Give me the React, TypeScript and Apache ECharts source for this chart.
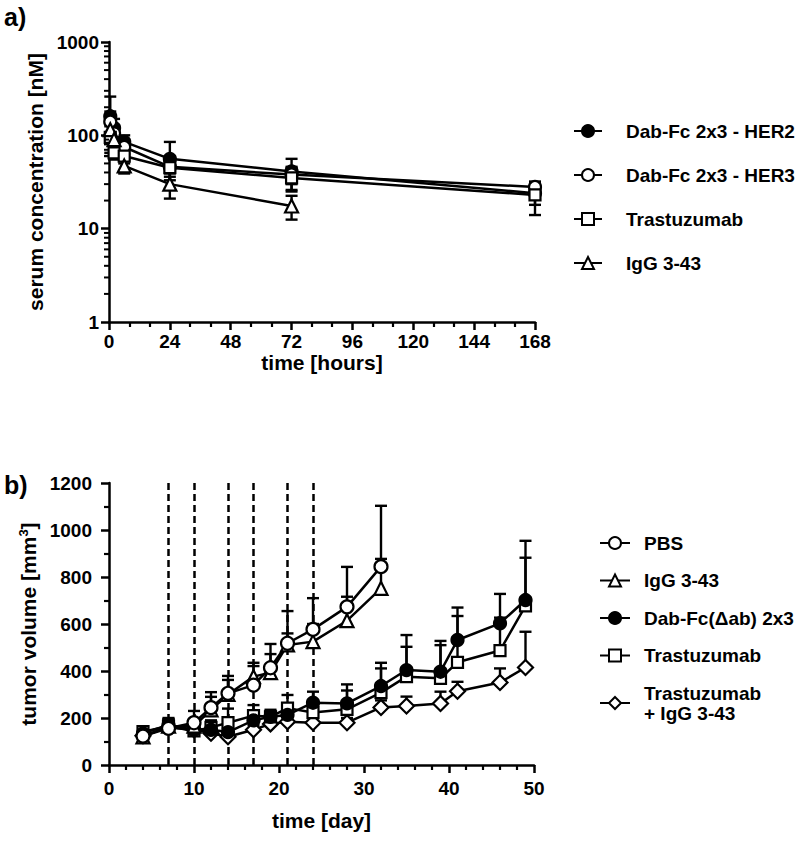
import React, { useEffect, useRef } from 'react';
import * as echarts from 'echarts';

const FONT = '"Liberation Sans", Arial, Helvetica, sans-serif';

// ---------- Panel a: serum concentration (nM) vs time (hours) ----------
const pkTimes = [0.5, 2, 6, 24, 72, 168];
const pkHer2 = [160, 120, 85, 56, 41, 24];
const pkHer2Sd = [100, 30, 15, 29, 15, 6];
const pkHer3 = [140, 105, 75, 46, 38, 28];
const pkHer3Sd = [40, 20, 12, 10, 8, 3];
const pkTras = [95, 65, 60, 45, 35, 23];
const pkTrasSd = [30, 10, 10, 12, 10, 9];
const pkIggTimes = [0.5, 2, 6, 24, 72];
const pkIgg = [115, 90, 47, 30, 17.5];
const pkIggSd = [30, 20, 8, 9, 5];
const logDecades = [1, 10, 100];
const logMinorMultipliers = [2, 3, 4, 5, 6, 7, 8, 9];

// ---------- Panel b: tumor volume (mm3) vs time (day) ----------
const days = [4, 7, 10, 12, 14, 17, 19, 21, 24, 28, 32, 35, 39, 41, 46, 49];
const daysShort = [4, 7, 10, 12, 14, 17, 19, 21, 24, 28, 32];
const pbs = [123, 156, 180, 244, 305, 340, 414, 518, 577, 673, 844];
const pbsErr = [20, 40, 50, 66, 74, 95, 101, 137, 133, 170, 259];
const igg = [120, 165, 165, 235, 300, 376, 393, 511, 525, 614, 752];
const iggErr = [15, 30, 30, 55, 62, 45, 79, 49, 75, 102, 125];
const dabFc = [135, 170, 150, 150, 140, 190, 205, 213, 265, 262, 336, 404, 397, 532, 603, 702];
const dabFcErr = [15, 30, 30, 30, 40, 40, 30, 40, 47, 81, 99, 149, 131, 138, 125, 252];
const tras = [142, 165, 145, 160, 180, 210, 205, 242, 223, 237, 308, 376, 369, 437, 487, 677];
const trasErr = [15, 25, 30, 30, 60, 45, 25, 56, 40, 80, 103, 127, 141, 197, 140, 205];
const trasIgg = [125, 160, 150, 135, 120, 150, 175, 184, 180, 180, 245, 251, 262, 314, 351, 415];
const trasIggErr = [10, 15, 15, 15, 15, 20, 15, 20, 20, 20, 30, 40, 50, 40, 60, 152];
const dosingDays = [7, 10, 14, 17, 21, 24];

const pkLegend = ['Dab-Fc 2x3 - HER2', 'Dab-Fc 2x3 - HER3', 'Trastuzumab', 'IgG 3-43'];
const tumorLegend = ['PBS', 'IgG 3-43', 'Dab-Fc(Δab) 2x3', 'Trastuzumab', 'Trastuzumab\n+ IgG 3-43'];

const pairs = (xs: number[], ys: number[]) => xs.map((x, i) => [x, ys[i]]);

function lineSeries(name: string, grid: number, xs: number[], ys: number[], symbol: string, size: number, filled: boolean) {
  return {
    type: 'line',
    name,
    xAxisIndex: grid,
    yAxisIndex: grid,
    data: pairs(xs, ys),
    symbol,
    symbolSize: size,
    showSymbol: true,
    z: 5,
    lineStyle: { color: '#000', width: 2.5 },
    itemStyle: { color: filled ? '#000' : '#fff', borderColor: '#000', borderWidth: 2.2 },
    emphasis: { disabled: true },
    silent: true,
  };
}

function errorSeries(grid: number, xs: number[], ys: number[], errs: number[], both: boolean) {
  return {
    type: 'custom',
    xAxisIndex: grid,
    yAxisIndex: grid,
    z: 2,
    silent: true,
    data: xs.map((x, i) => [x, both ? ys[i] - errs[i] : ys[i], ys[i] + errs[i]]),
    encode: { x: 0, y: [1, 2] },
    renderItem: (_params: any, api: any) => {
      const x = api.value(0);
      const hi = api.coord([x, api.value(2)]);
      const lo = api.coord([x, api.value(1)]);
      const w = 6;
      const st = { stroke: '#000', lineWidth: 2.4 };
      const children: any[] = [
        { type: 'line', shape: { x1: hi[0], y1: hi[1], x2: lo[0], y2: lo[1] }, style: st },
        { type: 'line', shape: { x1: hi[0] - w, y1: hi[1], x2: hi[0] + w, y2: hi[1] }, style: st },
      ];
      if (both) children.push({ type: 'line', shape: { x1: lo[0] - w, y1: lo[1], x2: lo[0] + w, y2: lo[1] }, style: st });
      return { type: 'group', children };
    },
  };
}

const axisLineStyle = { lineStyle: { color: '#000', width: 2.5 } };
const tickStyle = { show: true, inside: false, length: 8, lineStyle: { color: '#000', width: 2.5 } };
const minorTickStyle = (n: number) => ({ show: true, splitNumber: n, length: 5, lineStyle: { color: '#000', width: 2.2 } });
const labelStyle = (margin: number) => ({
  color: '#000', fontFamily: FONT, fontWeight: 'bold', fontSize: 19, margin,
  formatter: (v: number) => String(Math.round(v)),
});
const nameStyle = { color: '#000', fontFamily: FONT, fontWeight: 'bold', fontSize: 21 };
const legendText = (pad: number) => ({
  color: '#000', fontFamily: FONT, fontWeight: 'bold', fontSize: 19, lineHeight: 20, padding: [0, 0, 0, pad],
});

export default function App() {
  const ref = useRef<HTMLDivElement>(null);
  useEffect(() => {
    document.body.style.margin = '0';
    if (!ref.current) return;
    const chart = echarts.init(ref.current, undefined, { renderer: 'svg' });
    const logMinor: number[][] = [];
    logDecades.forEach((d) => logMinorMultipliers.forEach((m) => logMinor.push([0, d * m])));

    const option: any = {
      animation: false,
      backgroundColor: '#fff',
      textStyle: { fontFamily: FONT },
      grid: [
        { left: 109, top: 42, width: 426, height: 280, containLabel: false, outerBoundsMode: 'none' },
        { left: 109, top: 483, width: 425, height: 282, containLabel: false, outerBoundsMode: 'none' },
      ],
      xAxis: [
        {
          gridIndex: 0, type: 'value', min: 0, max: 168, interval: 24,
          axisLine: axisLineStyle, axisTick: tickStyle, minorTick: minorTickStyle(3),
          splitLine: { show: false }, axisLabel: labelStyle(10),
          name: 'time [hours]', nameLocation: 'middle', nameGap: 30, nameTextStyle: nameStyle,
        },
        {
          gridIndex: 1, type: 'value', min: 0, max: 50, interval: 10,
          axisLine: axisLineStyle, axisTick: tickStyle, minorTick: minorTickStyle(5),
          splitLine: { show: false }, axisLabel: labelStyle(14),
          name: 'time [day]', nameLocation: 'middle', nameGap: 45, nameTextStyle: nameStyle,
        },
      ],
      yAxis: [
        {
          gridIndex: 0, type: 'log', logBase: 10, min: 1, max: 1000, splitNumber: 3,
          axisLine: axisLineStyle, axisTick: tickStyle, splitLine: { show: false },
          axisLabel: labelStyle(10),
          name: 'serum concentration [nM]', nameLocation: 'middle', nameGap: 58, nameTextStyle: nameStyle,
        },
        {
          gridIndex: 1, type: 'value', min: 0, max: 1200, interval: 200,
          axisLine: axisLineStyle, axisTick: tickStyle, minorTick: minorTickStyle(2),
          splitLine: { show: false }, axisLabel: labelStyle(17),
          name: 'tumor volume [mm{sup|3}]', nameLocation: 'middle', nameGap: 52,
          nameTextStyle: { ...nameStyle, rich: { sup: { fontFamily: FONT, fontWeight: 'bold', fontSize: 13, color: '#000', padding: [0, 0, 10, 0] } } },
        },
      ],
      legend: [
        {
          orient: 'vertical', left: 573, top: 121, padding: 0, itemWidth: 28, itemHeight: 15, itemGap: 24,
          selectedMode: false, data: pkLegend, textStyle: legendText(19),
        },
        {
          orient: 'vertical', left: 599, top: 533, padding: 0, itemWidth: 30, itemHeight: 15, itemGap: 17.5,
          selectedMode: false, data: tumorLegend, textStyle: legendText(9),
        },
      ],
      graphic: [
        { type: 'text', left: 4, top: 4, style: { text: 'a)', fontFamily: FONT, fontWeight: 'bold', fontSize: 25, fill: '#000' } },
        { type: 'text', left: 4, top: 472, style: { text: 'b)', fontFamily: FONT, fontWeight: 'bold', fontSize: 25, fill: '#000' } },
      ],
      series: [
        // panel a
        errorSeries(0, pkTimes, pkHer2, pkHer2Sd, true),
        errorSeries(0, pkTimes, pkHer3, pkHer3Sd, true),
        errorSeries(0, pkTimes, pkTras, pkTrasSd, true),
        errorSeries(0, pkIggTimes, pkIgg, pkIggSd, true),
        lineSeries('Dab-Fc 2x3 - HER2', 0, pkTimes, pkHer2, 'circle', 12, true),
        lineSeries('Dab-Fc 2x3 - HER3', 0, pkTimes, pkHer3, 'circle', 12, false),
        lineSeries('Trastuzumab', 0, pkTimes, pkTras, 'rect', 11, false),
        lineSeries('IgG 3-43', 0, pkIggTimes, pkIgg, 'triangle', 13, false),
        {
          type: 'custom', xAxisIndex: 0, yAxisIndex: 0, silent: true, z: 6,
          data: logMinor, encode: { x: 0, y: 1 },
          renderItem: (_p: any, api: any) => {
            const p = api.coord([api.value(0), api.value(1)]);
            return { type: 'line', shape: { x1: p[0] - 5, y1: p[1], x2: p[0], y2: p[1] }, style: { stroke: '#000', lineWidth: 2 } };
          },
        },
        // panel b
        {
          type: 'line', xAxisIndex: 1, yAxisIndex: 1, data: [], silent: true, z: 1,
          markLine: {
            silent: true, symbol: 'none', label: { show: false },
            lineStyle: { color: '#000', width: 2.5, type: [7, 4] },
            data: dosingDays.map((d) => ({ xAxis: d })),
          },
        },
        errorSeries(1, daysShort, pbs, pbsErr, false),
        errorSeries(1, daysShort, igg, iggErr, false),
        errorSeries(1, days, dabFc, dabFcErr, false),
        errorSeries(1, days, tras, trasErr, false),
        errorSeries(1, days, trasIgg, trasIggErr, false),
        lineSeries('Trastuzumab\n+ IgG 3-43', 1, days, trasIgg, 'diamond', 15, false),
        lineSeries('Trastuzumab', 1, days, tras, 'rect', 11, false),
        lineSeries('Dab-Fc(Δab) 2x3', 1, days, dabFc, 'circle', 12, true),
        lineSeries('IgG 3-43', 1, daysShort, igg, 'triangle', 13, false),
        lineSeries('PBS', 1, daysShort, pbs, 'circle', 13, false),
      ],
    };
    chart.setOption(option);
    return () => chart.dispose();
  }, []);
  return <div ref={ref} style={{ width: 800, height: 845 }} />;
}
